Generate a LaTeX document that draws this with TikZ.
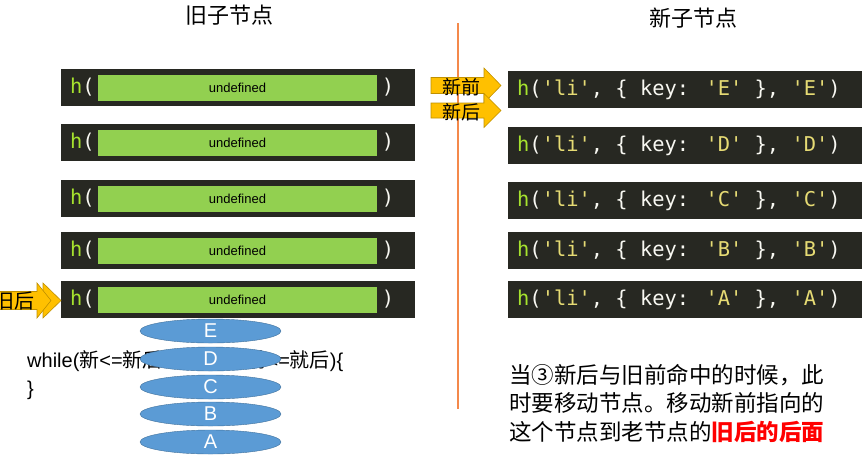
\documentclass[tikz,border=0pt]{standalone}
\usepackage{fontspec}
\setmainfont{Liberation Sans}
\newfontfamily\cjk{Noto Sans CJK SC}
\newfontfamily\codefont{DejaVu Sans Mono}
\usetikzlibrary{shapes.geometric}
\definecolor{codebg}{HTML}{272822}
\definecolor{hgreen}{HTML}{A6E22E}
\definecolor{codestr}{HTML}{E6DB74}
\definecolor{codefg}{HTML}{F8F8F2}
\definecolor{slotgreen}{HTML}{92D050}
\definecolor{arrowfill}{HTML}{FFC000}
\definecolor{arrowline}{HTML}{BF9000}
\definecolor{vnodefill}{HTML}{5B9BD5}
\definecolor{vnodeline}{HTML}{41719C}
\definecolor{divider}{HTML}{F4894B}
% one line of the new children
\newcommand{\hcall}[1]{{\color{hgreen}h}(\textcolor{codestr}{'li'}, \{ key: \textcolor{codestr}{'#1'} \}, \textcolor{codestr}{'#1'})}
% pointer arrow: body left, head base, tip, centre y, body half, head half
\newcommand{\pointer}[6]{\draw[pointerbox] (#1,#4-#5) -- (#2,#4-#5) -- (#2,#4-#6) -- (#3,#4) -- (#2,#4+#6) -- (#2,#4+#5) -- (#1,#4+#5) -- cycle;}
\begin{document}
\begin{tikzpicture}[x=1pt,y=-1pt,
  oldbar/.style={fill=codebg,minimum width=354pt,minimum height=37pt,inner sep=0},
  newbar/.style={fill=codebg,minimum width=354pt,minimum height=37pt,inner sep=0},
  slot/.style={fill=slotgreen,minimum width=279pt,minimum height=26pt,inner sep=0,font=\fontsize{13}{15}\selectfont},
  codetext/.style={inner sep=0,text=codefg,font=\codefont\fontsize{20.4}{24}\selectfont},
  vnode/.style={ellipse,fill=vnodefill,draw=vnodeline,minimum width=141pt,minimum height=24pt,inner sep=0,text=white,font=\fontsize{20}{22}\selectfont},
  pointerbox/.style={fill=arrowfill,draw=arrowline,line width=0.6pt,line join=miter},
  ptrlabel/.style={inner sep=0,font=\cjk\fontsize{19}{21}\selectfont},
  title/.style={inner sep=0,font=\cjk\fontsize{22}{24}\selectfont}]
\useasboundingbox (0,0) rectangle (867,456);

\node[title] (oldtitle) at (229,15) {旧子节点};
\node[title] (newtitle) at (693,18) {新子节点};

\draw[divider,line width=2pt] (457.5,23) -- (457.5,409);

% old children
\foreach \y [count=\i] in {87.5,142.5,198.5,250.5,299.5} {
  \node[oldbar] (old\i) at (238,\y) {};
  \node[codetext,anchor=west] (oldh\i) at (70,\y) {{\color{hgreen}h}(};
  \node[slot] (slot\i) at (237.5,\y+0.5) {undefined};
  \node[codetext] (oldc\i) at (388,\y) {)};
}

% new children
\foreach \k/\y [count=\i] in {E/89.5,D/145.5,C/200.5,B/250.5,A/299.5} {
  \node[newbar] (new\i) at (685,\y) {};
  \node[codetext,anchor=west] (newh\i) at (517,\y) {\hcall{\k}};
}

% pointers
\pointer{431}{484}{501}{85.5}{8}{17.5}
\node[ptrlabel] (newstart) at (461,87) {新前};
\pointer{431}{484}{501}{110.5}{7.5}{17}
\node[ptrlabel] (newend) at (461,112) {新后};
\pointer{-10}{43}{61}{300.5}{9}{17.5}
\pointer{-10}{37}{51}{300.5}{9}{17.5}
\node[ptrlabel,anchor=west,font=\cjk\fontsize{20}{22}\selectfont] (oldend) at (-6,301) {旧后};

% loop
\node[inner sep=0,anchor=west,font=\fontsize{20}{22}\selectfont] (loop) at (27,361)
  {while({\cjk 新}<={\cjk 新后} \&\& \hspace{26pt}{\cjk 旧前}<={\cjk 就后})\{};
\node[inner sep=0,anchor=west,font=\fontsize{20}{22}\selectfont] (loopend) at (27,390) {\}};

% vnodes stacked
\foreach \k/\y in {E/331,D/359,C/387,B/414,A/442}
  \node[vnode] (v\k) at (210.5,\y) {\k};

\node[inner sep=0,anchor=west,align=left,font=\cjk\fontsize{22.5}{28.5}\selectfont] (note) at (509,403)
  {当③新后与旧前命中的时候，此\\时要移动节点。移动新前指向的\\这个节点到老节点的{\bfseries\color{red}旧后的后面}};
\end{tikzpicture}
\end{document}
